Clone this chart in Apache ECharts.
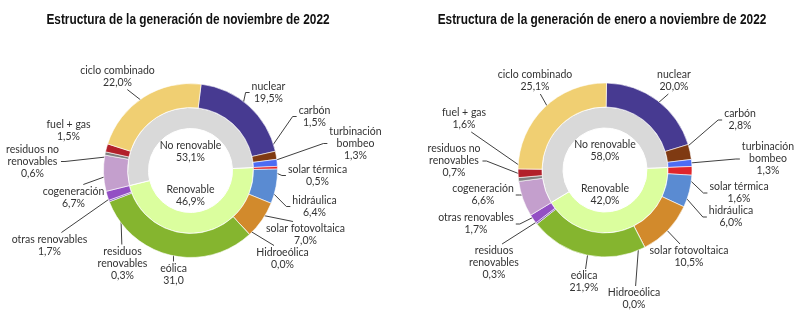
<!DOCTYPE html>
<html>
<head>
<meta charset="utf-8">
<script src="https://cdn.jsdelivr.net/npm/echarts@6/dist/echarts.min.js"></script>
<style>
  html, body { margin: 0; padding: 0; background: #ffffff; }
  #grafico { width: 800px; height: 326px; }
</style>
</head>
<body>
<div id="grafico"></div>
<script>
// Tecnologías, en el orden en que se recorre el anillo exterior (sentido horario)
const tecnologias = ['nuclear', 'carbón', 'turbinación\nbombeo', 'solar térmica', 'hidráulica',
  'solar fotovoltaica', 'Hidroeólica', 'eólica', 'residuos\nrenovables', 'otras renovables',
  'cogeneración', 'residuos no\nrenovables', 'fuel + gas', 'ciclo combinado'];

// Estructura de la generación (%)
const generacionNoviembre = [19.5, 1.5, 1.3, 0.5, 6.4, 7.0, 0.0, 31.0, 0.3, 1.7, 6.7, 0.6, 1.5, 22.0];
const generacionEneroNoviembre = [20.0, 2.8, 1.3, 1.6, 6.0, 10.5, 0.0, 21.9, 0.3, 1.7, 6.6, 0.7, 1.6, 25.1];

// Anillo interior: renovable / no renovable (%)
const grupos = ['Renovable', 'No renovable'];
const gruposNoviembre = [46.9, 53.1];
const gruposEneroNoviembre = [42.0, 58.0];

// Número de tecnologías no renovables que preceden a las renovables en el anillo
const noRenovablesIniciales = 3;

const titulos = ['Estructura de la generación de noviembre de 2022',
                 'Estructura de la generación de enero a noviembre de 2022'];

const coloresTecnologias = ['#473a91', '#7f3a12', '#4c6cf4', '#e0262b', '#5a8bd2', '#d28a2c',
  '#3a6fb0', '#85b52f', '#7d4db8', '#934fc4', '#c49fcd', '#7f7f7f', '#b2202a', '#f0cf72'];
const coloresGrupos = ['#dbfe9e', '#d9d9d9'];

// Etiquetas sin símbolo de porcentaje en cada gráfico
const sinPorcentaje = [['eólica'], []];
// Etiquetas sin línea guía
const sinLinea = [['fuel + gas'], []];

// Disposición: centro de cada gráfico, posición del título y desplazamiento de cada etiqueta
const centros = [[190.5, 170.5], [605, 170]];
const posTitulos = [[188, 20], [602, 20]];
const angulosInicio = [83, 89];
const desplazEtiquetas = [
  [[78, -78], [124, -54], [165, -27], [127, 5], [124, 36], [115, 64], [92, 88],
   [-17, 104], [-68, 93], [-141, 75], [-117, 27], [-158, -9], [-122, -40], [-73, -94]],
  [[69, -89], [135, -50], [163, -11], [134, 23], [126, 47], [84, 87], [29, 129],
   [-21, 112], [-111, 93], [-129, 54], [-122, 25], [-151, -9], [-141, -51], [-70, -89]]
];
const desplazGrupos = [[0, 25], [0, -19]];

const fuente = 'Lato, "Liberation Sans", sans-serif';

function formato(v, conPorcentaje) {
  return v.toFixed(1).replace('.', ',') + (conPorcentaje ? '%' : '');
}

function colocarEtiquetas(centro, valores, inicio, desplaz, conLinea) {
  const total = valores.reduce((a, b) => a + b, 0);
  const [cx, cy] = centro;
  return function (p) {
    const i = p.dataIndex;
    const x = cx + desplaz[i][0];
    const y = cy + desplaz[i][1];
    const res = { x: x, y: y, align: 'center', verticalAlign: 'middle' };
    if (conLinea && conLinea[i]) {
      let acum = 0;
      for (let k = 0; k < i; k++) acum += valores[k];
      const a = (inicio - (acum + valores[i] / 2) / total * 360) * Math.PI / 180;
      const tx = cx + 75 * Math.cos(a);
      const ty = cy - 75 * Math.sin(a);
      const w = p.labelRect.width / 2 + 2;
      const h = p.labelRect.height / 2 + 1;
      const ddx = tx - x, ddy = ty - y;
      if (Math.abs(ddy) / h * 0.8 > Math.abs(ddx) / w) {
        const sy = y + Math.sign(ddy) * h;
        const sx = x + Math.max(-w * 0.3, Math.min(w * 0.3, ddx * 0.3));
        res.labelLinePoints = [[tx, ty], [sx, sy], [sx, sy]];
      } else {
        const sx = x + Math.sign(ddx) * w;
        res.labelLinePoints = [[tx, ty], [sx + Math.sign(ddx) * 4, y], [sx, y]];
      }
    }
    return res;
  };
}

function series(indice, valores, valoresGrupo) {
  const centro = centros[indice];
  const inicio = angulosInicio[indice];
  const total = valores.reduce((a, b) => a + b, 0);
  let previo = 0;
  for (let k = 0; k < noRenovablesIniciales; k++) previo += valores[k];
  const inicioGrupos = inicio - previo / total * 360;
  const conLinea = tecnologias.map(t => !sinLinea[indice].includes(t));

  return [
    {
      type: 'pie',
      center: centro,
      radius: [42, 63],
      startAngle: inicioGrupos,
      clockwise: true,
      avoidLabelOverlap: false,
      silent: true,
      data: grupos.map((g, i) => ({ name: g, value: valoresGrupo[i], itemStyle: { color: coloresGrupos[i] } })),
      itemStyle: { borderColor: '#ffffff', borderWidth: 1 },
      label: {
        show: true,
        position: 'outside',
        formatter: p => p.name + '\n' + formato(p.value, true),
        fontFamily: fuente, fontSize: 10.5, lineHeight: 12, color: '#333333'
      },
      labelLine: { show: false },
      labelLayout: colocarEtiquetas(centro, valoresGrupo, inicioGrupos, desplazGrupos, null)
    },
    {
      type: 'pie',
      center: centro,
      radius: [63, 87],
      startAngle: inicio,
      clockwise: true,
      avoidLabelOverlap: false,
      silent: true,
      data: tecnologias.map((t, i) => ({
        name: t, value: valores[i],
        itemStyle: { color: coloresTecnologias[i] },
        labelLine: { show: conLinea[i] }
      })),
      itemStyle: { borderColor: '#ffffff', borderWidth: 0.6 },
      label: {
        show: true,
        position: 'outside',
        formatter: p => p.name + '\n' + formato(p.value, !sinPorcentaje[indice].includes(p.name)),
        fontFamily: fuente, fontSize: 10.5, lineHeight: 12, color: '#333333'
      },
      labelLine: { show: true, lineStyle: { color: '#404040', width: 1 } },
      labelLayout: colocarEtiquetas(centro, valores, inicio, desplazEtiquetas[indice], conLinea)
    }
  ];
}

const grafico = echarts.init(document.getElementById('grafico'), null, { renderer: 'canvas' });
grafico.setOption({
  animation: false,
  backgroundColor: '#ffffff',
  // Títulos en negrita estrechada horizontalmente
  graphic: titulos.map((t, i) => ({
    type: 'text',
    x: posTitulos[i][0],
    y: posTitulos[i][1],
    scaleX: 0.79,
    silent: true,
    style: {
      text: t,
      font: 'bold 15px "Liberation Sans", Arial, sans-serif',
      fill: '#111111',
      align: 'center',
      verticalAlign: 'middle',
      textAlign: 'center',
      textVerticalAlign: 'middle'
    }
  })),
  series: [
    ...series(0, generacionNoviembre, gruposNoviembre),
    ...series(1, generacionEneroNoviembre, gruposEneroNoviembre)
  ]
});
</script>
</body>
</html>
